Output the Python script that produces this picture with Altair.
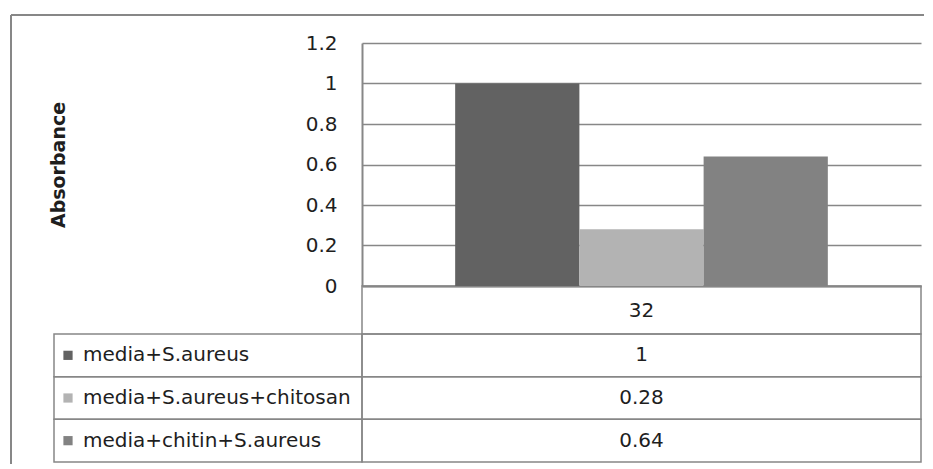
import altair as alt
import pandas as pd

# ---- data ----
category = ["32"]
series = ["media+S.aureus", "media+S.aureus+chitosan", "media+chitin+S.aureus"]
values = [1.0, 0.28, 0.64]
value_labels = ["1", "0.28", "0.64"]
colors = ["#626262", "#b3b3b3", "#828282"]
y_ticks = [0, 0.2, 0.4, 0.6, 0.8, 1.0, 1.2]

# ---- layout (pixels, relative to plot area) ----
W, H = 559, 243
TABLE_TOP, TABLE_BOTTOM = 291, 419
LABEL_COL = 308
FONT = "DejaVu Sans"
FS = 20
LINE = "#878787"
TXT = "#1e1e1e"

df = pd.DataFrame({
    "category": category * len(series),
    "series": series,
    "value": values,
    "label": value_labels,
})
cat_df = pd.DataFrame({"category": category})

color_scale = alt.Scale(domain=series, range=colors)
x_enc = alt.X(
    "category:N",
    scale=alt.Scale(paddingOuter=0.25, paddingInner=0),
    axis=alt.Axis(title=None, labelFontSize=FS, labelFont=FONT, labelColor=TXT,
                  ticks=False, tickSize=0, labelPadding=24, labelBaseline="middle",
                  labelAngle=0, domainColor=LINE, domainWidth=2.2, grid=False),
)

bars = alt.Chart(df).mark_bar().encode(
    x=x_enc,
    xOffset=alt.XOffset("series:N", scale=alt.Scale(domain=series, paddingInner=0, paddingOuter=0)),
    y=alt.Y(
        "value:Q",
        scale=alt.Scale(domain=[0, 1.2], nice=False),
        axis=alt.Axis(values=y_ticks, format="~g", title="Absorbance", titleFont=FONT,
                      titleFontSize=19, titleFontWeight="bold", titleColor=TXT,
                      titleX=-304, titleY=H / 2, titleBaseline="middle", titleAngle=270,
                      labelFont=FONT, labelFontSize=FS, labelColor=TXT, labelPadding=25,
                      ticks=False, tickSize=0, domainColor=LINE, domainWidth=2,
                      gridColor=LINE, gridWidth=1.3),
    ),
    color=alt.Color("series:N", scale=color_scale, legend=None),
)

header_cell = alt.Chart(cat_df).mark_rect(fillOpacity=0, stroke=LINE, strokeWidth=1.5).encode(
    x=alt.value(0), x2=alt.value(W), y=alt.value(H), y2=alt.value(TABLE_TOP)
)

frame_left = alt.Chart(cat_df).mark_rule(color=LINE, strokeWidth=2).encode(
    x=alt.value(-351), y=alt.value(-28), y2=alt.value(TABLE_BOTTOM + 2)
)
frame_top = alt.Chart(cat_df).mark_rule(color=LINE, strokeWidth=2).encode(
    x=alt.value(-351), x2=alt.value(562), y=alt.value(-28)
)

row_y = alt.Y("series:N",
              scale=alt.Scale(domain=series, range=[TABLE_TOP, TABLE_BOTTOM],
                              paddingInner=0, paddingOuter=0),
              axis=None)

label_cells = alt.Chart(df).mark_rect(fillOpacity=0, stroke=LINE, strokeWidth=1.5).encode(
    x=alt.value(-LABEL_COL), x2=alt.value(0), y=row_y
)
value_cells = alt.Chart(df).mark_rect(fillOpacity=0, stroke=LINE, strokeWidth=1.5).encode(
    x=alt.value(0), x2=alt.value(W), y=row_y
)
icons = alt.Chart(df).mark_square(size=85, opacity=1).encode(
    x=alt.value(-294), y=row_y,
    color=alt.Color("series:N", scale=color_scale, legend=None),
)
label_text = alt.Chart(df).mark_text(align="left", baseline="middle", font=FONT,
                                      fontSize=FS, color=TXT).encode(
    x=alt.value(-279), y=row_y, text="series:N"
)
value_text = alt.Chart(df).mark_text(align="center", baseline="middle", font=FONT,
                                      fontSize=FS, color=TXT).encode(
    x=alt.X("category:N"), y=row_y, text="label:N"
)

table = alt.layer(label_cells, value_cells, icons, label_text, value_text)

chart = (
    alt.layer(header_cell, bars, frame_left, frame_top, table)
    .resolve_scale(y="independent")
    .properties(width=W, height=H, padding={"top": 6, "left": 2, "right": 0, "bottom": 0},
                background="white")
    .configure_view(strokeWidth=0)
)

chart.save("out.html", embed_options={"renderer": "svg", "actions": False})
